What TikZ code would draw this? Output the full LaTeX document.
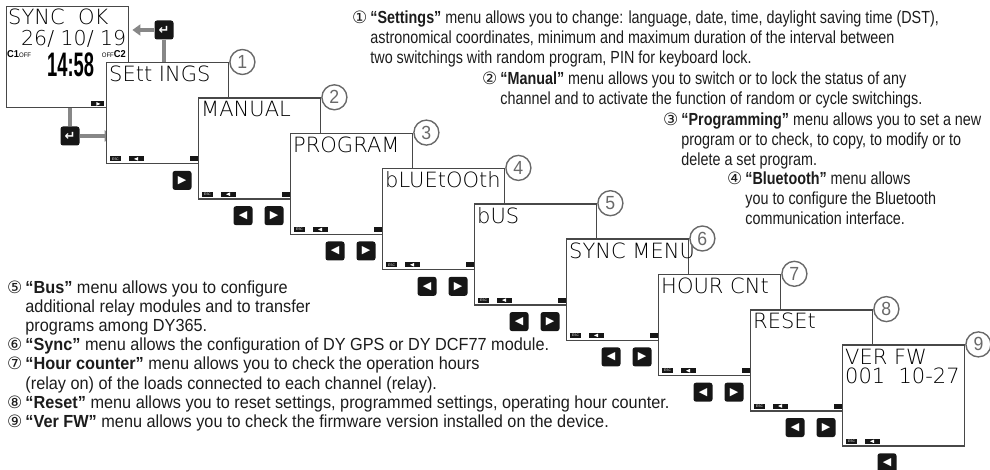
\documentclass[tikz,border=0pt]{standalone}
\usepackage{fontspec}
\setmainfont{Liberation Sans}[FakeStretch=0.93]
\newfontfamily\topfont{Liberation Sans}[FakeStretch=0.82]
\newfontfamily\signfont{DejaVu Sans}
\newfontfamily\lcdfont{DejaVuSans-ExtraLight.ttf}
\usetikzlibrary{arrows.meta, positioning}
\definecolor{keyblack}{RGB}{22, 22, 22}
\definecolor{framegray}{RGB}{72, 72, 72}
\definecolor{flowgray}{RGB}{135, 135, 135}
\definecolor{numgray}{RGB}{105, 105, 105}
\definecolor{textblack}{RGB}{28, 28, 28}
\newcommand{\cnum}[1]{{\signfont\fontsize{17}{17}\selectfont #1}}

\begin{document}
\begin{tikzpicture}[x=1pt, y=-1pt,
    lcdscreen/.style={draw=framegray, line width=1.4pt, fill=white, anchor=north west,
        minimum width=122pt, minimum height=101pt, inner sep=0pt},
    lcd/.style={anchor=west, inner sep=0pt, font=\lcdfont\fontsize{21}{21}\selectfont},
    btn/.style={fill=keyblack, rounded corners=2.5pt, minimum size=19pt, inner sep=0pt,
        text=white, font=\signfont\fontsize{11}{11}\selectfont},
    numring/.style={circle, draw=numgray, line width=1.4pt, fill=white, minimum size=25pt,
        inner sep=0pt, text=numgray, font=\fontsize{19}{19}\selectfont},
    flowline/.style={draw=flowgray, line width=3.2pt},
    descbox/.style={anchor=north west, inner sep=0pt, text=textblack},
    topdesc/.style={descbox, font=\topfont\fontsize{17.5}{19.9}\selectfont}]
    \useasboundingbox (0,0) rectangle (990,470);

    % home display
    \node[lcdscreen] (home) at (6,6) {};
    \node[lcd, font=\lcdfont\fontsize{21}{21}\selectfont] (sync) at (8,16.5) {SYNC\ \ OK};
    \node[lcd, font=\lcdfont\fontsize{20.5}{20.5}\selectfont] (date) at (21,38.5) {26/ 10/ 19};
    \node[anchor=west, inner sep=0pt, font=\bfseries\fontsize{10}{10}\selectfont] (ch1) at (7,54) {C1{\mdseries\fontsize{6.5}{6.5}\selectfont OFF}};
    \node[anchor=west, inner sep=0pt] (clock) at (47,65) {\scalebox{0.58}[1]{\bfseries\fontsize{34}{34}\selectfont 14:58}};
    \node[anchor=east, inner sep=0pt, font=\bfseries\fontsize{10}{10}\selectfont] (ch2) at (126,54) {{\mdseries\fontsize{6.5}{6.5}\selectfont OFF}C2};
    \fill[keyblack] ([shift={(-38,-7)}]home.south east) rectangle ++(13,5);
    \fill[white] ([shift={(-29,-4.5)}]home.south east) -- ++(-4,-1.8) -- ++(0,3.6) -- cycle;

    \node[btn, font=\signfont\bfseries\fontsize{13}{13}\selectfont] (enter1) at (164,30) {↵};
    \node[btn, font=\signfont\bfseries\fontsize{13}{13}\selectfont] (enter2) at (70,136) {↵};
    \draw[flowline, -{Triangle[length=8pt, width=11pt]}, shorten >=3pt] (enter1.west) -- (enter1 -| home.east);
    \draw[flowline] (enter1.south) -- ++(0,24);
    \draw[flowline] (home.south -| enter2) -- (enter2.north);
    \draw[flowline, -{Triangle[length=8pt, width=11pt]}, shorten >=3pt] (enter2.east) -- ++(36,0);

    % menu displays
    \foreach \k/\menu in {1/SEtt INGS, 2/MANUAL, 3/PROGRAM, 4/bLUEtOOth, 5/bUS,
        6/SYNC MENU, 7/HOUR CNt, 8/RESEt, 9/VER FW} {
        \node[lcdscreen] (scr\k) at ({106+92*(\k-1)},{62+35.3*(\k-1)}) {};
        \node[lcd] (menu\k) at ([shift={(3,12)}]scr\k.north west) {\menu};
        \fill[keyblack] ([shift={(4,-8)}]scr\k.south west) rectangle ++(11,5);
        \node[inner sep=0pt, text=white, font=\fontsize{3.5}{3.5}\selectfont] (esc\k) at ([shift={(9.5,-5.5)}]scr\k.south west) {ESC};
        \fill[keyblack] ([shift={(23,-8)}]scr\k.south west) rectangle ++(15,5);
        \fill[white] ([shift={(28,-5.5)}]scr\k.south west) -- ++(4,-1.8) -- ++(0,3.6) -- cycle;
        \ifnum\k<9
            \fill[keyblack] ([shift={(-39,-8)}]scr\k.south east) rectangle ++(13,5);
            \node[btn] (fwd\k) at ([shift={(76,16)}]scr\k.south west) {▶};
        \fi
        \ifnum\k>1
            \node[btn] (back\k) at ([shift={(45,16)}]scr\k.south west) {◀};
        \fi
        \node[numring] (num\k) at ([shift={(13,0)}]scr\k.north east) {\k};
    }
    \node[lcd] (fwver) at ([shift={(3,31)}]scr9.north west) {001\ \ 10-27};

    % descriptions
    \node[topdesc] (txt1) at (352,9.4) {\begin{tabular}{@{}l@{\hspace{3pt}}l@{}}
        \cnum{①} & \textbf{“Settings”} menu allows you to change: language, date, time, daylight saving time (DST),\\
        & astronomical coordinates, minimum and maximum duration of the interval between\\
        & two switchings with random program, PIN for keyboard lock.
    \end{tabular}};
    \node[topdesc] (txt2) at (482,70.4) {\begin{tabular}{@{}l@{\hspace{3pt}}l@{}}
        \cnum{②} & \textbf{“Manual”} menu allows you to switch or to lock the status of any\\
        & channel and to activate the function of random or cycle switchings.
    \end{tabular}};
    \node[topdesc] (txt3) at (663,111.4) {\begin{tabular}{@{}l@{\hspace{3pt}}l@{}}
        \cnum{③} & \textbf{“Programming”} menu allows you to set a new\\
        & program or to check, to copy, to modify or to\\
        & delete a set program.
    \end{tabular}};
    \node[topdesc] (txt4) at (727,170.4) {\begin{tabular}{@{}l@{\hspace{3pt}}l@{}}
        \cnum{④} & \textbf{“Bluetooth”} menu allows\\
        & you to configure the Bluetooth\\
        & communication interface.
    \end{tabular}};
    \node[descbox, font=\fontsize{17.5}{19.1}\selectfont] (txt5) at (7,280) {\begin{tabular}{@{}l@{\hspace{3pt}}l@{}}
        \cnum{⑤} & \textbf{“Bus”} menu allows you to configure\\
        & additional relay modules and to transfer\\
        & programs among DY365.\\
        \cnum{⑥} & \textbf{“Sync”} menu allows the configuration of DY GPS or DY DCF77 module.\\
        \cnum{⑦} & \textbf{“Hour counter”} menu allows you to check the operation hours\\
        & (relay on) of the loads connected to each channel (relay).\\
        \cnum{⑧} & \textbf{“Reset”} menu allows you to reset settings, programmed settings, operating hour counter.\\
        \cnum{⑨} & \textbf{“Ver FW”} menu allows you to check the firmware version installed on the device.
    \end{tabular}};
\end{tikzpicture}
\end{document}
